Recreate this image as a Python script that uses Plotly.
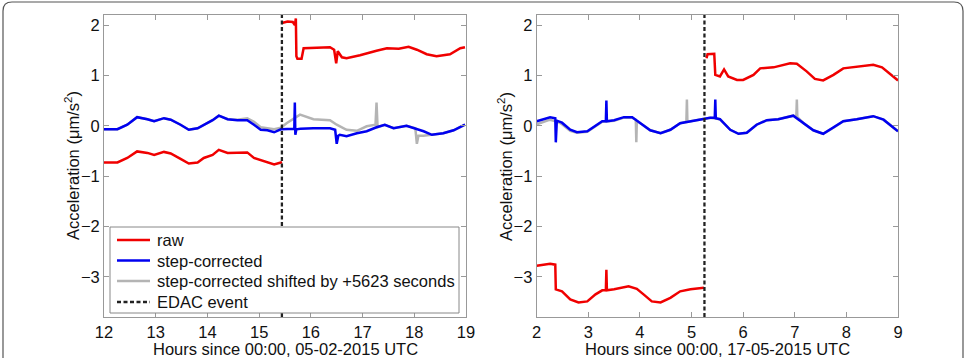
import plotly.graph_objects as go

# ---------------- data ----------------
# Left panel: hours since 00:00, 05-02-2015 UTC
left_edac = 15.44
left_blue_h = [12.00, 12.26, 12.45, 12.64, 12.84, 12.97, 13.16, 13.29, 13.48, 13.64, 13.81, 13.93,
               14.10, 14.22, 14.39, 14.58, 14.77, 14.90, 15.03, 15.16, 15.29, 15.42, 15.55, 15.68,
               15.69, 15.70, 15.72, 15.80, 16.05, 16.37, 16.47, 16.50, 16.53, 16.56, 16.69, 16.89,
               17.08, 17.27, 17.43, 17.60, 17.85, 18.02, 18.18, 18.34, 18.56, 18.76, 18.98]
left_blue_v = [-0.07, -0.07, 0.02, 0.17, 0.13, 0.09, 0.15, 0.12, 0.02, -0.08, -0.05, 0.02,
               0.11, 0.20, 0.13, 0.11, 0.11, 0.02, -0.08, -0.09, -0.13, -0.07, -0.06, -0.06,
               0.46, -0.18, -0.07, -0.06, -0.05, -0.05, -0.08, -0.36, -0.20, -0.18, -0.21, -0.15,
               -0.11, -0.03, 0.02, -0.05, 0.00, -0.05, -0.11, -0.18, -0.15, -0.09, 0.02]
left_red_pre_h = [12.00, 12.26, 12.45, 12.64, 12.84, 12.97, 13.16, 13.29, 13.48, 13.64, 13.81, 13.93,
                  14.10, 14.22, 14.39, 14.58, 14.77, 14.90, 15.03, 15.16, 15.29, 15.42, 15.44]
left_red_pre_v = [-0.73, -0.73, -0.64, -0.51, -0.54, -0.58, -0.52, -0.55, -0.66, -0.75, -0.73, -0.64,
                  -0.58, -0.48, -0.54, -0.54, -0.53, -0.64, -0.68, -0.73, -0.77, -0.73, -0.72]
left_red_post_h = [15.44, 15.55, 15.65, 15.69, 15.71, 15.72, 15.74, 15.78, 15.82, 15.86, 16.10, 16.37,
                   16.45, 16.49, 16.52, 16.60, 16.69, 16.95, 17.27, 17.47, 17.70, 17.89, 18.05, 18.24,
                   18.43, 18.69, 18.89, 18.98]
left_red_post_v = [2.04, 2.07, 2.06, 2.00, 2.13, 1.38, 1.33, 1.33, 1.33, 1.54, 1.55, 1.56,
                   1.51, 1.24, 1.48, 1.36, 1.34, 1.40, 1.49, 1.54, 1.53, 1.57, 1.51, 1.42,
                   1.38, 1.42, 1.54, 1.56]
left_gray_h = [12.00, 12.26, 12.45, 12.64, 12.84, 12.97, 13.16, 13.29, 13.48, 13.64, 13.81, 13.93,
               14.10, 14.22, 14.39, 14.58, 14.77, 14.90, 15.03, 15.16, 15.29, 15.42, 15.53, 15.79,
               16.05, 16.37, 16.50, 16.69, 16.89, 17.08, 17.25, 17.27, 17.29, 17.43, 17.60, 17.85,
               18.02, 18.05, 18.08, 18.18, 18.34, 18.56, 18.76, 18.98]
left_gray_v = [-0.07, -0.07, 0.02, 0.17, 0.13, 0.09, 0.15, 0.12, 0.02, -0.08, -0.05, 0.02,
               0.11, 0.20, 0.13, 0.12, 0.15, 0.08, -0.03, -0.05, -0.07, -0.04, 0.05, 0.22,
               0.13, 0.11, 0.02, -0.08, -0.10, -0.01, 0.02, 0.46, -0.03, 0.02, -0.05, 0.00,
               -0.05, -0.36, -0.20, -0.20, -0.18, -0.15, -0.09, 0.02]

# Right panel: hours since 00:00, 17-05-2015 UTC
right_edac = 5.25
right_blue_h = [2.00, 2.26, 2.36, 2.37, 2.39, 2.49, 2.65, 2.78, 2.98, 3.14, 3.27, 3.34, 3.35, 3.36,
                3.50, 3.69, 3.85, 4.01, 4.20, 4.40, 4.59, 4.78, 4.98, 5.165, 5.36, 5.45, 5.46, 5.47,
                5.55, 5.75, 5.91, 6.07, 6.26, 6.46, 6.68, 6.97, 7.17, 7.36, 7.55, 7.75, 7.94, 8.20,
                8.52, 8.72, 8.91, 9.00]
right_blue_v = [0.09, 0.17, 0.15, -0.33, 0.10, 0.06, -0.08, -0.13, -0.11, 0.00, 0.09, 0.09, 0.50, 0.09,
                0.11, 0.17, 0.17, 0.05, -0.09, -0.15, -0.08, 0.05, 0.09, 0.12, 0.16, 0.16, 0.52, 0.15,
                0.13, -0.08, -0.16, -0.14, 0.02, 0.11, 0.13, 0.20, 0.05, -0.09, -0.16, -0.04, 0.09, 0.13,
                0.19, 0.12, -0.04, -0.11]
right_red_pre_h = [2.00, 2.26, 2.36, 2.37, 2.49, 2.65, 2.81, 2.98, 3.14, 3.27, 3.34, 3.35, 3.36,
                   3.50, 3.78, 3.94, 4.07, 4.23, 4.40, 4.59, 4.78, 4.98, 5.24]
right_red_pre_v = [-2.78, -2.74, -2.76, -3.25, -3.29, -3.45, -3.51, -3.49, -3.35, -3.27, -3.27, -2.86, -3.27,
                   -3.25, -3.19, -3.24, -3.35, -3.49, -3.51, -3.42, -3.29, -3.25, -3.22]
right_red_post_h = [5.29, 5.31, 5.44, 5.46, 5.55, 5.63, 5.71, 5.88, 6.00, 6.20, 6.33, 6.59,
                    6.91, 7.04, 7.23, 7.39, 7.55, 7.75, 7.94, 8.14, 8.52, 8.69, 8.88, 9.00]
right_red_post_v = [1.34, 1.42, 1.43, 1.01, 0.98, 1.12, 0.98, 0.91, 0.91, 1.01, 1.14, 1.16,
                    1.24, 1.23, 1.08, 0.93, 0.90, 1.01, 1.14, 1.16, 1.21, 1.16, 1.01, 0.90]
right_gray_h = [2.00, 2.26, 2.40, 2.49, 2.65, 2.78, 2.98, 3.14, 3.27, 3.50, 3.69, 3.85, 3.92, 3.93,
                3.94, 4.01, 4.20, 4.40, 4.59, 4.78, 4.90, 4.91, 4.92, 4.98, 5.165, 5.36, 5.55, 5.75,
                5.91, 6.07, 6.26, 6.46, 6.68, 6.97, 7.03, 7.04, 7.05, 7.17, 7.36, 7.55, 7.75, 7.94,
                8.20, 8.52, 8.72, 8.91, 9.00]
right_gray_v = [0.03, 0.12, 0.08, 0.03, -0.10, -0.14, -0.12, -0.01, 0.08, 0.10, 0.16, 0.16, 0.12, -0.33,
                0.10, 0.05, -0.09, -0.15, -0.08, 0.05, 0.08, 0.52, 0.08, 0.09, 0.12, 0.16, 0.13, -0.08,
                -0.16, -0.14, 0.02, 0.11, 0.13, 0.20, 0.18, 0.52, 0.17, 0.05, -0.09, -0.16, -0.04, 0.09,
                0.13, 0.19, 0.12, -0.04, -0.11]

y_range = [-3.8, 2.2]
y_ticks = [-3, -2, -1, 0, 1, 2]
left_x_range = [12, 19]
right_x_range = [2, 9]
left_xlabel = "Hours since 00:00, 05-02-2015 UTC"
right_xlabel = "Hours since 00:00, 17-05-2015 UTC"
ylabel = "Acceleration (\u03bcm/s<sup>2</sup>)"
names = ["raw", "step-corrected", "step-corrected shifted by +5623 seconds", "EDAC event"]

# ---------------- styling ----------------
W, H = 969, 358
RED, BLUE, GRAY, BLACK = "#f00000", "#0000f0", "#b4b4b4", "#222222"
LW = 2.5
EDAC_DASH = "4px,2.5px"
EDAC_W = 2.3
FONT = "Liberation Sans, Arial, sans-serif"
TXT = "#111111"

fig = go.Figure()


def add_panel(xa, ya, gh, gv, bh, bv, rph, rpv, rqh, rqv, edac):
    fig.add_trace(go.Scatter(x=gh, y=gv, mode="lines", line=dict(color=GRAY, width=LW),
                             name=names[2], showlegend=False, xaxis=xa, yaxis=ya))
    fig.add_trace(go.Scatter(x=bh, y=bv, mode="lines", line=dict(color=BLUE, width=LW),
                             name=names[1], showlegend=False, xaxis=xa, yaxis=ya))
    fig.add_trace(go.Scatter(x=rph + [None] + rqh, y=rpv + [None] + rqv, mode="lines",
                             line=dict(color=RED, width=LW), connectgaps=False,
                             name=names[0], showlegend=False, xaxis=xa, yaxis=ya))
    fig.add_trace(go.Scatter(x=[edac, edac], y=y_range, mode="lines",
                             line=dict(color=BLACK, width=EDAC_W, dash=EDAC_DASH),
                             name=names[3], showlegend=False, xaxis=xa, yaxis=ya))


add_panel("x", "y", left_gray_h, left_gray_v, left_blue_h, left_blue_v,
          left_red_pre_h, left_red_pre_v, left_red_post_h, left_red_post_v, left_edac)
add_panel("x2", "y2", right_gray_h, right_gray_v, right_blue_h, right_blue_v,
          right_red_pre_h, right_red_pre_v, right_red_post_h, right_red_post_v, right_edac)

ax_common = dict(showline=True, linecolor="#999999", linewidth=1, mirror="ticks",
                 ticks="inside", ticklen=5, tickcolor="#999999", showgrid=False,
                 zeroline=False, tickfont=dict(size=16.5, family=FONT, color=TXT),
                 automargin=False, fixedrange=True)

ydom = [1 - 317 / H, 1 - 15 / H]
fig.update_layout(
    width=W, height=H, margin=dict(l=0, r=0, t=0, b=0),
    paper_bgcolor="white", plot_bgcolor="white",
    font=dict(family=FONT, size=16.5, color=TXT),
    showlegend=False,
    xaxis=dict(domain=[104 / W, 466 / W], range=left_x_range, tickvals=list(range(12, 20)), **ax_common),
    yaxis=dict(domain=ydom, range=y_range, tickvals=y_ticks, anchor="x", **ax_common),
    xaxis2=dict(domain=[536.7 / W, 898 / W], range=right_x_range, tickvals=list(range(2, 10)),
                anchor="y2", **ax_common),
    yaxis2=dict(domain=ydom, range=y_range, tickvals=y_ticks, anchor="x2", **ax_common),
)


def px(x):
    return x / W


def py(y):
    return 1 - y / H


# axis titles
for xc, txt in [(285, left_xlabel), (717, right_xlabel)]:
    fig.add_annotation(x=px(xc), y=py(349), xref="paper", yref="paper", text=txt,
                       showarrow=False, xanchor="center", yanchor="middle",
                       font=dict(size=16.5, family=FONT, color=TXT))
for xc in [72, 505]:
    fig.add_annotation(x=px(xc), y=py(166), xref="paper", yref="paper", text=ylabel,
                       showarrow=False, xanchor="center", yanchor="middle", textangle=-90,
                       font=dict(size=16.5, family=FONT, color=TXT))

# legend box (drawn manually for exact row spacing)
fig.add_shape(type="rect", xref="paper", yref="paper", x0=px(110), x1=px(459), y0=py(313), y1=py(227),
              fillcolor="white", line=dict(color="#888888", width=1), layer="above")
leg_styles = [dict(color=RED, width=LW), dict(color=BLUE, width=LW), dict(color=GRAY, width=LW),
              dict(color=BLACK, width=EDAC_W, dash=EDAC_DASH)]
leg_rows = [240, 260.5, 281, 302]
for nm, st, yr in zip(names, leg_styles, leg_rows):
    fig.add_shape(type="line", xref="paper", yref="paper", x0=px(117), x1=px(150), y0=py(yr), y1=py(yr),
                  line=st, layer="above")
    fig.add_annotation(x=px(155), y=py(yr), xref="paper", yref="paper", text=nm, showarrow=False,
                       xanchor="left", yanchor="middle", font=dict(size=16.5, family=FONT, color=TXT))

# rounded outer frame
x0, x1, yt, yb = px(3), px(963), py(2), -0.1
rx, ry = 9 / W, 9 / H
path = (f"M {x0},{yb} L {x0},{yt - ry} Q {x0},{yt} {x0 + rx},{yt} "
        f"L {x1 - rx},{yt} Q {x1},{yt} {x1},{yt - ry} L {x1},{yb}")
fig.add_shape(type="path", path=path, xref="paper", yref="paper",
              line=dict(color="#555555", width=1.2))

fig.write_html("out.html")
